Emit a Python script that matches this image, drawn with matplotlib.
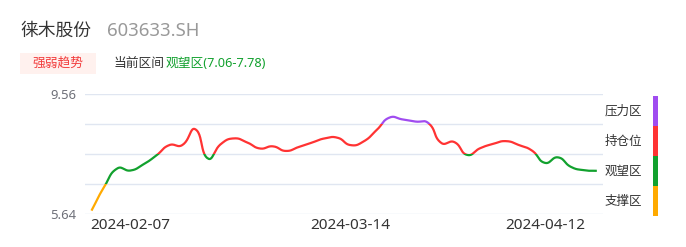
import numpy as np
import matplotlib
matplotlib.use("Agg")
import matplotlib.pyplot as plt
from matplotlib.patches import Rectangle

plt.rcParams['font.family'] = ['Noto Sans', 'Noto Sans CJK SC', 'DejaVu Sans']

# --- data ---
stock_name = "徕木股份"
stock_code = "603633.SH"
current_zone = "观望区(7.06-7.78)"

prices = [5.75, 6.54, 7.13, 7.06, 7.26, 7.55, 7.89, 7.89, 8.41, 7.45,
          7.93, 8.11, 7.98, 7.78, 7.85, 7.70, 7.83, 7.97, 8.11, 8.13,
          7.89, 8.01, 8.38, 8.79, 8.73, 8.66, 8.61, 7.96, 7.99, 7.57,
          7.79, 7.93, 8.02, 7.89, 7.71, 7.31, 7.49, 7.18, 7.07, 7.05]
tick_pos = [3, 20, 35]
tick_labels = ["2024-02-07", "2024-03-14", "2024-04-12"]

y_min, y_max = 5.64, 9.56
zone_bounds = [5.64, 6.62, 7.60, 8.58, 9.56]
zone_names = ["支撑区", "观望区", "持仓位", "压力区"]
zone_colors = ["#FFAA00", "#12A12E", "#FF3333", "#A04CF0"]

W, H = 686, 247
fig = plt.figure(figsize=(W / 100, H / 100), dpi=100)


def fx(px):
    return px / W


def fy(py):
    return 1 - py / H


def smooth(ys, sx, sy, k=0.5, n=24):
    """echarts-like smoothed path, control points worked out in pixel space."""
    pts = np.column_stack([np.arange(len(ys)) * sx, np.array(ys) * sy]).astype(float)
    m = len(pts)
    cp_in = np.zeros_like(pts)
    cp_out = np.zeros_like(pts)
    for i in range(m):
        prev = pts[max(i - 1, 0)]
        nxt = pts[min(i + 1, m - 1)]
        cur = pts[i]
        v = (nxt - prev) * k
        d0 = np.hypot(*(cur - prev))
        d1 = np.hypot(*(nxt - cur))
        tot = d0 + d1 if d0 + d1 > 0 else 1
        cp_in[i] = cur - v * d0 / tot
        cp_out[i] = cur + v * d1 / tot
    out = []
    t = np.linspace(0, 1, n, endpoint=False)[:, None]
    for i in range(m - 1):
        p1, c1, c2, p2 = pts[i], cp_out[i], cp_in[i + 1], pts[i + 1]
        out.append((1 - t) ** 3 * p1 + 3 * (1 - t) ** 2 * t * c1 + 3 * (1 - t) * t ** 2 * c2 + t ** 3 * p2)
    out.append(pts[-1:])
    res = np.vstack(out)
    return res[:, 0] / sx, res[:, 1] / sy


# plot area
ax_l, ax_r, ax_t, ax_b = 85, 603.3, 94, 214
ax = fig.add_axes([fx(ax_l), fy(ax_b), fx(ax_r) - fx(ax_l), (ax_b - ax_t) / H])
px_per_x = (ax_r - ax_l) / len(prices)
px_per_y = (ax_b - ax_t) / (y_max - y_min)
cx, cy = smooth(prices, px_per_x, px_per_y)
for lo, hi, col in zip(zone_bounds[:-1], zone_bounds[1:], zone_colors):
    lo_c = lo if lo > y_min else -100
    hi_c = hi if hi < y_max else 100
    ln, = ax.plot(cx, cy, color=col, lw=1.6,
                  solid_capstyle='butt', solid_joinstyle='round', zorder=3)
    clip = Rectangle((-5, lo_c), 60, hi_c - lo_c, transform=ax.transData)
    ln.set_clip_path(clip)

ax.set_xlim(-0.5, len(prices) - 0.5)
ax.set_ylim(y_min, y_max)
ax.set_yticks(zone_bounds)
ax.set_yticklabels(["5.64", "", "", "", "9.56"])
ax.set_xticks(tick_pos)
ax.set_xticklabels(tick_labels)
ax.tick_params(axis='y', length=0, pad=6.5, labelsize=9.4, labelcolor='#6E7079')
ax.tick_params(axis='x', length=0, pad=3, labelsize=11, labelcolor='#333333')
ax.grid(True, axis='y', color='#E0E6F1', lw=1)
for s in ax.spines.values():
    s.set_visible(False)
ax.set_axisbelow(True)

# header
fig.text(fx(20), fy(35.5), stock_name, fontsize=12.8, color='#333333', va='baseline')
fig.text(fx(107), fy(35.7), stock_code, fontsize=13.3, color='#999999', va='baseline')

fig.patches.append(Rectangle((fx(20), fy(74)), fx(76), 21 / H, transform=fig.transFigure,
                             facecolor='#FFF1EE', edgecolor='none'))
fig.text(fx(58), fy(63.5), "强弱趋势", fontsize=9.2, color='#F23B3B', ha='center', va='center')
fig.text(fx(114), fy(63.5), "当前区间", fontsize=9.2, color='#333333', va='center')
fig.text(fx(165.5), fy(63.5), current_zone, fontsize=9.2, color='#12A12E', va='center')

# zone legend on the right
bar_top = 96
for i, (name, col) in enumerate(zip(zone_names[::-1], zone_colors[::-1])):
    top = bar_top + i * 30
    fig.patches.append(Rectangle((fx(653), fy(top + 30)), 5 / W, 30 / H,
                                 transform=fig.transFigure, facecolor=col, edgecolor='none'))
    fig.text(fx(642.5), fy(top + 15), name, fontsize=9, color='#333333', ha='right', va='center')

fig.savefig("out.png", dpi=100)
